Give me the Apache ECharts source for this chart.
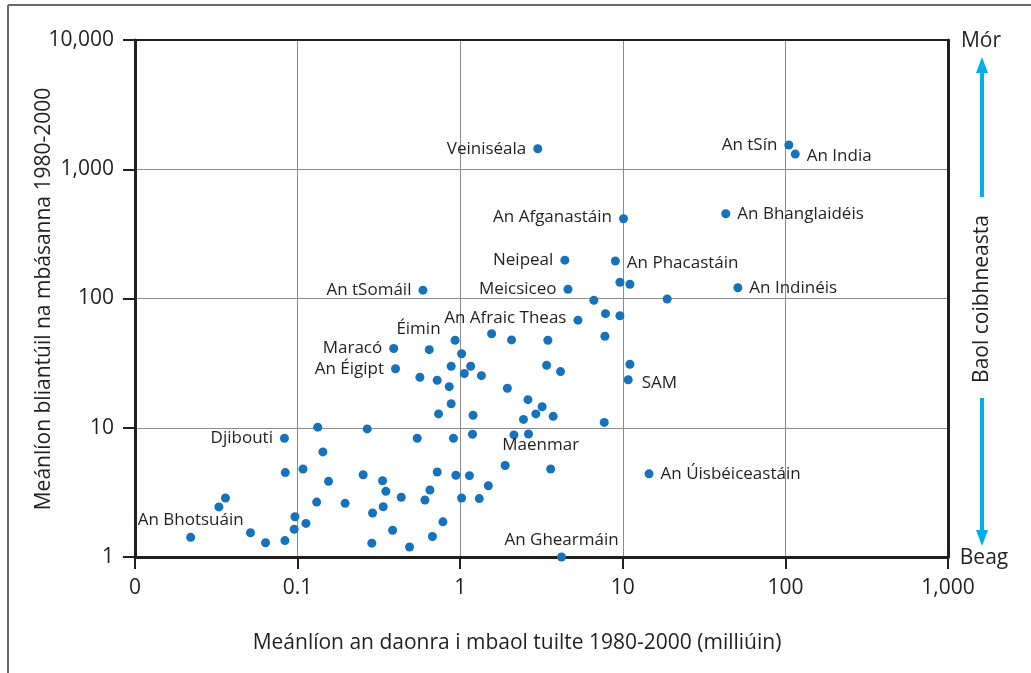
<!DOCTYPE html>
<html lang="ga">
<head>
    <meta charset="UTF-8">
    <title>Baol tuilte</title>
    <script src="https://cdn.jsdelivr.net/npm/echarts@6.0.0/dist/echarts.min.js"></script>
    <style>
        html, body { margin: 0; padding: 0; background: #fff; }
        #container { width: 1031px; height: 673px; }
    </style>
</head>
<body>
<div id="container"></div>
<script>
    // tíortha le lipéad
    var countryNames = ['Veiniséala', 'An tSín', 'An India', 'An Afganastáin', 'An Bhanglaidéis',
        'Neipeal', 'An Phacastáin', 'An tSomáil', 'Meicsiceo', 'An Indinéis', 'An Afraic Theas',
        'Éimin', 'Maracó', 'An Éigipt', 'SAM', 'Djibouti', 'Maenmar', 'An Úisbéiceastáin',
        'An Ghearmáin', 'An Bhotsuáin'];
    var countryPop = [3.0, 105, 115, 10.1, 43, 4.4, 9.0, 0.59, 4.6, 51, 5.3,
        0.93, 0.39, 0.40, 10.8, 0.083, 3.6, 14.5, 4.2, 0.022];
    var countryDeaths = [1440, 1540, 1310, 414, 453, 198, 195, 116, 118, 121, 68,
        47.5, 41, 28.6, 23.5, 8.3, 4.8, 4.4, 1, 1.42];

    // tíortha eile (gan lipéad)
    var otherPop = [0.645, 1.02, 0.88, 1.06, 0.565, 0.722, 0.856, 0.88, 0.736, 0.133,
        0.268, 0.544, 0.909, 0.143, 0.084, 0.108, 0.253, 0.722, 0.941, 0.155,
        0.333, 0.349, 0.651, 0.036, 0.0328, 0.131, 0.196, 0.434, 0.607, 1.02,
        0.289, 0.336, 0.0963, 0.1125, 0.783, 0.0953, 0.0513, 0.0635, 0.0836, 0.384,
        0.286, 0.488, 0.675, 1.56, 2.07, 3.46, 7.76, 1.16, 1.35, 3.40,
        4.14, 11.06, 1.95, 2.61, 3.19, 2.92, 3.73, 2.45, 1.20, 7.69,
        1.19, 2.14, 2.63, 1.89, 1.14, 1.49, 1.31, 7.83, 9.6, 6.64,
        18.75, 9.6, 11.06];
    var otherDeaths = [40.2, 37.4, 29.9, 26.3, 24.6, 23.3, 20.8, 15.35, 12.8, 10.1,
        9.8, 8.3, 8.3, 6.5, 4.5, 4.8, 4.33, 4.55, 4.29, 3.85,
        3.89, 3.22, 3.3, 2.86, 2.44, 2.66, 2.6, 2.9, 2.76, 2.86,
        2.19, 2.45, 2.05, 1.82, 1.87, 1.64, 1.54, 1.29, 1.34, 1.61,
        1.28, 1.195, 1.44, 53.4, 47.8, 47.5, 51, 29.9, 25.3, 30.4,
        27.2, 31, 20.2, 16.5, 14.55, 12.8, 12.26, 11.6, 12.5, 11.0,
        8.9, 8.8, 8.94, 5.1, 4.26, 3.56, 2.83, 76.3, 73.6, 96.8,
        99.1, 133.5, 128.8];

    var xTickLabels = ['0', '0.1', '1', '10', '100', '1,000'];   // 10^-2 .. 10^3
    var yTickLabels = ['1', '10', '100', '1,000', '10,000'];     // 10^0 .. 10^4
    var xTitle = 'Meánlíon an daonra i mbaol tuilte 1980-2000 (milliúin)';
    var yTitle = 'Meánlíon bliantúil na mbásanna 1980-2000';

    // áit an lipéid do gach tír (dx, dy = bogadh breise)
    var labelPlace = {
        'An India': {position: 'right', dy: 2},
        'An Bhanglaidéis': {position: 'right'},
        'An Phacastáin': {position: 'right', dy: 2},
        'An Indinéis': {position: 'right'},
        'SAM': {position: 'right', distance: 9, dy: 3},
        'An Úisbéiceastáin': {position: 'right'},
        'Éimin': {position: 'left', distance: 10, dy: -11},
        'Maenmar': {position: 'top', distance: 11, dx: -10},
        'An Ghearmáin': {position: 'top', distance: 4},
        'An Bhotsuáin': {position: 'top', distance: 4},
        'An Afganastáin': {position: 'left', dy: -2},
        'An Afraic Theas': {position: 'left', dy: -2}
    };

    var dotColor = '#1672bb';
    var inkColor = '#231f20';
    var font = '"Open Sans", "Noto Sans", sans-serif';

    var labelled = countryNames.map(function (n, i) {
        var p = labelPlace[n] || {position: 'left'};
        return {
            name: n,
            value: [countryPop[i], countryDeaths[i]],
            label: {
                position: p.position,
                distance: p.distance || 7
            }
        };
    });
    var others = otherPop.map(function (v, i) {
        return [v, otherDeaths[i]];
    });

    var myChart = echarts.init(document.getElementById('container'));

    var tickFmt = function (arr, base) {
        return function (v) {
            var e = Math.round(Math.log(v) / Math.LN10) - base;
            return arr[e] !== undefined ? arr[e] : '';
        };
    };

    // saighead ar dheis
    var arrowX = 982;
    var arrowColor = '#00aeef';

    var option = {
        backgroundColor: '#fff',
        animation: false,
        textStyle: {fontFamily: font},
        grid: {left: 135, right: 83, top: 40, bottom: 116, containLabel: false},
        xAxis: [{
            type: 'log',
            logBase: 10,
            min: 0.01,
            max: 1000,
            splitNumber: 5,
            axisLine: {lineStyle: {color: inkColor, width: 3}},
            axisTick: {show: true, inside: false, length: 12, lineStyle: {color: inkColor, width: 2}},
            axisLabel: {
                margin: 21,
                fontSize: 21,
                color: inkColor,
                fontFamily: font,
                formatter: tickFmt(xTickLabels, -2)
            },
            splitLine: {show: true, lineStyle: {color: '#8c8c8c', width: 1}},
            minorTick: {show: false}
        }, {
            type: 'log',
            logBase: 10,
            min: 0.01,
            max: 1000,
            position: 'top',
            axisLine: {lineStyle: {color: inkColor, width: 2}},
            axisTick: {show: false},
            axisLabel: {show: false},
            splitLine: {show: false}
        }],
        yAxis: [{
            type: 'log',
            logBase: 10,
            min: 1,
            max: 10000,
            splitNumber: 4,
            axisLine: {lineStyle: {color: inkColor, width: 3}},
            axisTick: {show: true, inside: false, length: 12, lineStyle: {color: inkColor, width: 2}},
            axisLabel: {
                margin: 21,
                fontSize: 21,
                color: inkColor,
                fontFamily: font,
                formatter: tickFmt(yTickLabels, 0)
            },
            splitLine: {show: true, lineStyle: {color: '#8c8c8c', width: 1}},
            minorTick: {show: false}
        }, {
            type: 'log',
            logBase: 10,
            min: 1,
            max: 10000,
            position: 'right',
            axisLine: {lineStyle: {color: inkColor, width: 3}},
            axisTick: {show: false},
            axisLabel: {show: false},
            splitLine: {show: false}
        }],
        series: [{
            type: 'scatter',
            name: 'eile',
            symbolSize: 9,
            itemStyle: {color: dotColor, opacity: 1},
            data: others,
            z: 3
        }, {
            type: 'scatter',
            name: 'tíortha',
            symbolSize: 9,
            itemStyle: {color: dotColor, opacity: 1},
            label: {
                show: true,
                formatter: '{b}',
                fontSize: 17,
                color: inkColor,
                fontFamily: font
            },
            labelLayout: function (params) {
                var p = labelPlace[countryNames[params.dataIndex]] || {};
                return {dx: p.dx || 0, dy: p.dy || 0, hideOverlap: false};
            },
            data: labelled,
            z: 4
        }],
        graphic: [
            // fráma
            {type: 'line', shape: {x1: 8, y1: 5, x2: 1031, y2: 5}, style: {stroke: '#6a6a6a', lineWidth: 2}},
            {type: 'line', shape: {x1: 8, y1: 5, x2: 8, y2: 673}, style: {stroke: '#6a6a6a', lineWidth: 2}},
            // teidil na n-ais
            {type: 'text', x: 517, y: 643,
                style: {text: xTitle, fill: inkColor, font: '21px ' + font, align: 'center', verticalAlign: 'middle'}},
            {type: 'text', x: 44, y: 299, rotation: Math.PI / 2,
                style: {text: yTitle, fill: inkColor, font: '21px ' + font, align: 'center', verticalAlign: 'middle'}},
            // baol coibhneasta
            {type: 'text', x: 981, y: 41, style: {text: 'Mór', fill: inkColor, font: '21px ' + font, align: 'center', verticalAlign: 'middle'}},
            {type: 'text', x: 984, y: 558, style: {text: 'Beag', fill: inkColor, font: '21px ' + font, align: 'center', verticalAlign: 'middle'}},
            {type: 'text', x: arrowX, y: 299, rotation: Math.PI / 2,
                style: {text: 'Baol coibhneasta', fill: inkColor, font: '21px ' + font, align: 'center', verticalAlign: 'middle'}},
            {type: 'line', shape: {x1: arrowX, y1: 197, x2: arrowX, y2: 70}, style: {stroke: arrowColor, lineWidth: 4}},
            {type: 'polygon', shape: {points: [[arrowX, 57], [arrowX - 6, 73], [arrowX + 6, 73]]}, style: {fill: arrowColor}},
            {type: 'line', shape: {x1: arrowX, y1: 398, x2: arrowX, y2: 532}, style: {stroke: arrowColor, lineWidth: 4}},
            {type: 'polygon', shape: {points: [[arrowX, 546], [arrowX - 6, 530], [arrowX + 6, 530]]}, style: {fill: arrowColor}}
        ]
    };

    myChart.setOption(option);
</script>
</body>
</html>
